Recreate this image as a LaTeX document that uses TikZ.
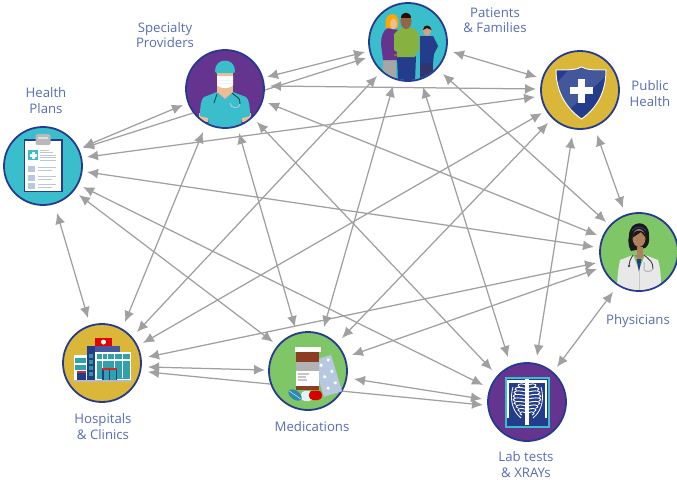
\documentclass[tikz,border=0pt]{standalone}
\usepackage{fontspec}
\setmainfont{Open Sans}
\usetikzlibrary{arrows.meta,backgrounds}
\definecolor{rimblue}{RGB}{38,58,145}
\definecolor{labelblue}{RGB}{88,108,178}
\definecolor{linkgray}{RGB}{160,160,160}
\definecolor{tealfill}{RGB}{58,190,203}
\definecolor{purplefill}{RGB}{100,52,142}
\definecolor{goldfill}{RGB}{218,183,56}
\definecolor{greenfill}{RGB}{126,198,102}
\definecolor{navy}{RGB}{36,60,140}
\definecolor{skin}{RGB}{236,190,150}
\definecolor{brownskin}{RGB}{150,100,65}
\definecolor{paleblue}{RGB}{185,200,225}
\definecolor{brick}{RGB}{140,62,35}
\definecolor{shirtgreen}{RGB}{135,178,65}
\tikzset{
  disc/.style={circle,draw=rimblue,line width=1.8pt,minimum size=78pt,inner sep=0pt,outer sep=0pt},
  conn/.style={draw=linkgray,line width=1.25pt,{Latex[length=11pt,width=10pt]}-{Latex[length=11pt,width=10pt]}},
  connone/.style={draw=linkgray,line width=1.25pt,-{Latex[length=11pt,width=10pt]}},
  lab/.style={text=labelblue,font=\fontsize{13.2}{15.2}\selectfont,align=center,inner sep=0pt}
}
\begin{document}
\begin{tikzpicture}[x=1pt,y=-1pt]
\useasboundingbox (0,0) rectangle (677,479);
% discs
\node[disc,fill=tealfill] (hp) at (43,166) {};
\node[disc,fill=purplefill] (sp) at (225,89) {};
\node[disc,fill=tealfill] (pa) at (408,42) {};
\node[disc,fill=goldfill] (pu) at (580,90) {};
\node[disc,fill=greenfill] (ph) at (639,252) {};
\node[disc,fill=purplefill] (la) at (527,402) {};
\node[disc,fill=greenfill] (me) at (308,371) {};
\node[disc,fill=goldfill] (ho) at (102,363) {};
% labels
\node[lab] (lhp) at (46,100.5) {Health\\Plans};
\node[lab] (lsp) at (165,35) {Specialty\\Providers};
\node[lab] (lpa) at (495,20) {Patients\\\& Families};
\node[lab] (lpu) at (650,93.5) {Public\\Health};
\node[lab] (lph) at (638,321) {Physicians};
\node[lab] (lla) at (526,464.5) {Lab tests\\\& XRAYs};
\node[lab] (lho) at (103,426.5) {Hospitals\\\& Clinics};
\node[lab] (lme) at (312,427) {Medications};
% connectors
\begin{scope}[on background layer]
\draw[conn] ([shift={(42,-12)}]sp.center) -- ([shift={(-43,10)}]pa.center);
\draw[connone] ([shift={(40,1)}]sp.center) -- ([shift={(-42,16)}]pa.center);
\draw[conn] ([shift={(45,-3)}]sp.center) -- ([shift={(-44,-1)}]pu.center);
\draw[conn] ([shift={(-45,7)}]pu.center) -- ([shift={(44,-9)}]hp.center);
\draw[conn] ([shift={(40,-19)}]hp.center) -- ([shift={(-42,16)}]sp.center);
\draw[connone] ([shift={(-32,24)}]sp.center) -- ([shift={(40,-18)}]hp.center);
\draw[conn] ([shift={(44,6)}]hp.center) -- ([shift={(-45,-5)}]ph.center);
\draw[conn] ([shift={(40,21)}]hp.center) -- ([shift={(-44,-17)}]la.center);
\draw[conn] ([shift={(36,29)}]hp.center) -- ([shift={(-35,-29)}]me.center);
\draw[conn] ([shift={(14,47)}]hp.center) -- ([shift={(-14,-45)}]ho.center);
\draw[conn] ([shift={(23,-41)}]ho.center) -- ([shift={(-22,43)}]sp.center);
\draw[conn] ([shift={(35,-31)}]ho.center) -- ([shift={(-31,34)}]pa.center);
\draw[conn] ([shift={(41,-20)}]ho.center) -- ([shift={(-38,23)}]pu.center);
\draw[conn] ([shift={(46,-6)}]ho.center) -- ([shift={(-43,11)}]ph.center);
\draw[conn] ([shift={(46,4)}]ho.center) -- ([shift={(-43,-1)}]me.center);
\draw[conn] ([shift={(46,9)}]ho.center) -- ([shift={(-44,3)}]la.center);
\draw[conn] ([shift={(46,8)}]me.center) -- ([shift={(-45,-3)}]la.center);
\draw[conn] ([shift={(44,-16)}]me.center) -- ([shift={(-42,17)}]ph.center);
\draw[conn] ([shift={(-13,-44)}]me.center) -- ([shift={(14,44)}]sp.center);
\draw[conn] ([shift={(16,-44)}]me.center) -- ([shift={(-15,44)}]pa.center);
\draw[conn] ([shift={(34,-33)}]me.center) -- ([shift={(-32,33)}]pu.center);
\draw[conn] ([shift={(-35,-32)}]la.center) -- ([shift={(32,33)}]sp.center);
\draw[conn] ([shift={(43,14)}]sp.center) -- ([shift={(-42,-17)}]ph.center);
\draw[conn] ([shift={(35,32)}]pa.center) -- ([shift={(-33,-30)}]ph.center);
\draw[conn] ([shift={(15,45)}]pa.center) -- ([shift={(-19,-45)}]la.center);
\draw[conn] ([shift={(45,10)}]pa.center) -- ([shift={(-43,-13)}]pu.center);
\draw[conn] ([shift={(-8,47)}]pu.center) -- ([shift={(10,-46)}]la.center);
\draw[conn] ([shift={(17,45)}]pu.center) -- ([shift={(-16,-44)}]ph.center);
\draw[conn] ([shift={(-26,40)}]ph.center) -- ([shift={(30,-35)}]la.center);
\end{scope}
% ---- Health plans icon
\begin{scope}[shift={(hp.center)}]
\fill[rimblue] (-19.5,-27) rectangle (19.5,26);
\fill[white] (-18,-25.5) rectangle (18,24.5);
\fill[gray!55,rounded corners=1.5pt] (-7.5,-32) rectangle (7.5,-21);
\fill[gray!25] (-5,-29.5) rectangle (5,-27);
\fill[tealfill] (-15,-16) rectangle (-5,-6);
\fill[white] (-13.5,-12.5) rectangle (-6.5,-9.5);
\fill[white] (-11.5,-14.5) rectangle (-8.5,-7.5);
\foreach \yy/\xx in {-16/6,-14/10,-11.5/13,-9/13,-6.5/13}{\fill[paleblue] (-3,\yy) rectangle (\xx,\yy+1.3);}
\foreach \yy in {0,9,17}{
  \fill[paleblue] (-15,\yy-0) rectangle (-8,\yy+6);
  \fill[paleblue] (-5,\yy+0.5) rectangle (13,\yy+1.8);
  \fill[paleblue] (-5,\yy+3.5) rectangle (9,\yy+4.8);
}
\end{scope}
% ---- Specialty provider icon
\begin{scope}[shift={(sp.center)}]
\clip (0,0) circle (38);
\fill[skin] (-8,-16) rectangle (8,4);
\fill[skin] (-26,24) rectangle (-17,33);
\fill[skin] (17,24) rectangle (26,33);
\fill[tealfill] (-8,3) -- (-21,8) .. controls (-24,10) and (-25,18) .. (-25,27) -- (-17,29) -- (-16,38) -- (16,38) -- (17,29) -- (25,27) .. controls (25,18) and (24,10) .. (21,8) -- (8,3) -- (0,10) -- cycle;
\fill[skin] (-8,3) -- (0,10) -- (8,3) -- cycle;
\fill[tealfill] (-10,-18) .. controls (-10,-32) and (10,-32) .. (10,-18) -- (9,-16) -- (-9,-16) -- cycle;
\fill[white] (-8,-13) -- (8,-13) -- (8,-4) .. controls (6,0) and (-6,0) .. (-8,-4) -- cycle;
\draw[white!80!paleblue,line width=.4pt] (-8,-9) -- (8,-9) (-8,-6) -- (8,-6);
\draw[teal!60!black,line width=.9pt] (-8,5) -- (-11,14);
\draw[teal!60!black,line width=.9pt] (7,4) -- (12,8) .. controls (15,10) and (15,12) .. (15,15);
\draw[paleblue,line width=.9pt] (5,14) .. controls (5,20) and (15,20) .. (15,15);
\end{scope}
% ---- Patients icon
\begin{scope}[shift={(pa.center)}]
\clip (0,0) circle (38);
% woman
\fill[gray!70] (-25,16) rectangle (-12,37);
\fill[purplefill] (-20,-14) .. controls (-25,-12) and (-27,-5) .. (-27,2) -- (-25,18) -- (-11,18) -- (-10,-12) -- cycle;
\fill[orange!70!yellow] (-22,-14) .. controls (-24,-24) and (-20,-28) .. (-15,-28) .. controls (-10,-28) and (-9,-20) .. (-10,-15) -- (-14,-13) -- cycle;
\fill[skin] (-14.5,-18) ellipse (3.4 and 5.5);
% boy
\fill[black!60!blue!60!gray] (12,20) rectangle (25,37);
\fill[navy] (12,-6) -- (25,-6) -- (30,4) -- (26,12) -- (25,21) -- (12,21) -- cycle;
\fill[skin!70!brownskin] (19,-11) ellipse (4 and 5);
\fill[black!70!brick] (15,-12) .. controls (15,-18) and (23,-18) .. (23.5,-12) -- (19,-14) -- cycle;
% man
\fill[navy] (-11,14) -- (8,14) -- (7,40) -- (-10,40) -- cycle;
\fill[brownskin] (-6,14) rectangle (-14,12);
\fill[shirtgreen] (-8,-14) -- (6,-14) -- (11,-8) -- (11,10) -- (8,10) -- (7,15) -- (-11,15) -- (-11,10) -- (-14,8) -- (-14,-8) -- cycle;
\fill[brownskin] (-2,-21) ellipse (5.5 and 8);
\fill[black!75!brick] (-7,-24) .. controls (-7,-31) and (3,-31) .. (3,-24) -- cycle;
\end{scope}
% ---- Public health icon
\begin{scope}[shift={(pu.center)}]
\fill[navy,draw=white!90!goldfill,line width=1pt] (1.5,-23) .. controls (7,-20) and (13,-20) .. (26,-20) .. controls (26,-2) and (20,16) .. (1.5,29) .. controls (-17,16) and (-24,-2) .. (-24,-20) .. controls (-12,-20) and (-4,-20) .. (1.5,-23) -- cycle;
\begin{scope}
\clip (1.5,-22) .. controls (7,-19) and (13,-19) .. (25,-19) .. controls (25,-2) and (20,16) .. (1.5,28) .. controls (-17,16) and (-23,-2) .. (-23,-19) .. controls (-12,-19) and (-4,-19) .. (1.5,-22) -- cycle;
\fill[white,opacity=.14] (-24,-6) -- (-9,-23) -- (26,-23) -- (26,-14) -- (-24,32) -- cycle;
\end{scope}
\fill[white] (-10.5,-3.5) rectangle (12.5,3.5);
\fill[white] (-2.5,-11.5) rectangle (4.5,12.5);
\end{scope}
% ---- Physician icon
\begin{scope}[shift={(ph.center)}]
\clip (0,0) circle (38);
\fill[black!90] (-10,-16) .. controls (-10,-33) and (11,-33) .. (10,-16) .. controls (11,-10) and (9,-6) .. (6,-4) -- (-8,-1) .. controls (-11,-6) and (-11,-12) .. (-10,-16) -- cycle;
\fill[brownskin!70!skin] (-2.5,-5) rectangle (3.5,6);
\fill[brownskin!70!skin] (0,-14) ellipse (6.5 and 9);
\fill[black!90] (-7,-14) .. controls (-6,-24) and (6,-24) .. (7,-14) -- (2,-20) -- cycle;
\draw[navy,line width=1pt] (-7,-21.5) .. controls (-3,-26) and (3,-26) .. (7,-21.5);
\fill[gray!18] (-6,3) -- (-19,8) .. controls (-21,18) and (-22,28) .. (-22,38) -- (22,38) .. controls (22,28) and (22,18) .. (19,8) -- (6,3) -- (0,18) -- cycle;
\fill[brownskin!70!skin] (-5,3) -- (0,8) -- (5,3) -- cycle;
\fill[navy] (-2.5,7) -- (2.5,7) -- (0,20) -- cycle;
\draw[black!75,line width=.9pt] (-6,3) .. controls (-9,8) and (-10,10) .. (-10,14);
\draw[black!75,line width=.9pt] (5,3) .. controls (11,8) and (14,10) .. (14,17);
\draw[gray!60,line width=1pt] (5,10) -- (5,18) .. controls (6,20) and (13,20) .. (14,17);
\fill[black!70] (-10,14) circle (1.3);
\draw[gray!45,line width=.4pt] (0,20) -- (0,38);
\end{scope}
% ---- Lab icon
\begin{scope}[shift={(la.center)}]
\fill[tealfill] (-22.5,-25.5) rectangle (22.5,26);
\fill[navy] (-20.5,-23.5) rectangle (20.5,24);
\fill[white] (-20,-22) rectangle (20,-19.5);
\draw[white,line width=1.2pt] (-19,-20) -- (-19,16) (19,-20) -- (19,16);
\fill[white] (-1.8,-23) rectangle (1.8,23);
\foreach \yy/\ww in {-17/9,-13.5/12,-10/13,-6.5/14,-3/14,.5/13,4/11,7.5/9,11/7}{
  \draw[white,line width=.9pt] (-1,\yy) .. controls (-\ww,\yy-3) and (-\ww-2,\yy+1) .. (-\ww+2,\yy+2);
  \draw[white,line width=.9pt] (1,\yy) .. controls (\ww,\yy-3) and (\ww+2,\yy+1) .. (\ww-2,\yy+2);
}
\draw[white,line width=.8pt] (-14,-15) .. controls (-17,-5) and (-16,8) .. (-6,16);
\draw[white,line width=.8pt] (14,-15) .. controls (17,-5) and (16,8) .. (6,16);
\end{scope}
% ---- Medications icon
\begin{scope}[shift={(me.center)}]
\begin{scope}[shift={(19,5)},rotate=17]
\fill[paleblue] (-9,-19) rectangle (10,19);
\foreach \yy in {-12,0,12}{\fill[white] (-2.5,\yy) circle (1.8); \fill[white] (6,\yy-3) circle (1.8);}
\end{scope}
\fill[white] (-13.5,-24.5) rectangle (12.5,-19);
\fill[brick] (-12.5,-19) rectangle (11,-9.5);
\fill[gray!60] (-12.5,-9.5) rectangle (11,0);
\fill[white] (-12.5,0) rectangle (11,15);
\fill[gray!45] (-10,2) rectangle (1,3.5);
\fill[gray!45] (-10,5) rectangle (-2,6.5);
\fill[gray!45] (-10,8) rectangle (-1,9.5);
\fill[brick] (-12.5,15) rectangle (11,19);
\fill[white!85!tealfill,rounded corners=4pt] (-7,20) rectangle (5,30);
\fill[red!85!black,rounded corners=4pt] (1,19.5) rectangle (14,29);
\fill[tealfill!60!navy,rotate around={-35:(-13,24)}] (-13,24) ellipse (7.5 and 4.5);
\draw[white!70!tealfill,line width=.5pt,rotate around={-35:(-13,24)}] (-20,24) -- (-6,24);
\end{scope}
% ---- Hospital icon
\begin{scope}[shift={(ho.center)}]
\fill[red!90!black] (-7,-25) rectangle (10,-17.5);
\fill[white] (1.5,-21) circle (2.5);
\fill[navy!85!white] (-15,-17.5) rectangle (18,-11);
\fill[navy] (-15,-17.5) rectangle (-7,17);
\fill[white] (-7,-11) rectangle (29,17);
\fill[tealfill!85!black] (-5,-9) rectangle (28,-4);
\fill[tealfill!85!black] (-5,-2) rectangle (28,16);
\draw[white,line width=.5pt] (-0,-9) -- (0,15) (5,-9) -- (5,-2) (12,-9) -- (12,15) (20,-9) -- (20,15);
\fill[white] (-28,-8) rectangle (-15,17);
\fill[tealfill!85!black] (-27,-5) rectangle (-16,0);
\fill[tealfill!85!black] (-27,2) rectangle (-16,7);
\fill[navy] (-25,9) rectangle (-16,17);
\fill[red!70!gray] (-25,8) rectangle (-16,10);
\foreach \yy in {-9,-3,3,9}{\fill[tealfill!80!black] (-13,\yy) rectangle (-9,\yy+4);}
\fill[navy] (0,5) rectangle (15,17);
\fill[tealfill!85!black] (1.5,7) rectangle (13.5,17);
\draw[navy,line width=.6pt] (7.5,7) -- (7.5,17);
\fill[red!70!gray] (0,4.5) rectangle (15,6.5);
\fill[gray!55] (-29,17) rectangle (30,19);
\end{scope}
\end{tikzpicture}
\end{document}
